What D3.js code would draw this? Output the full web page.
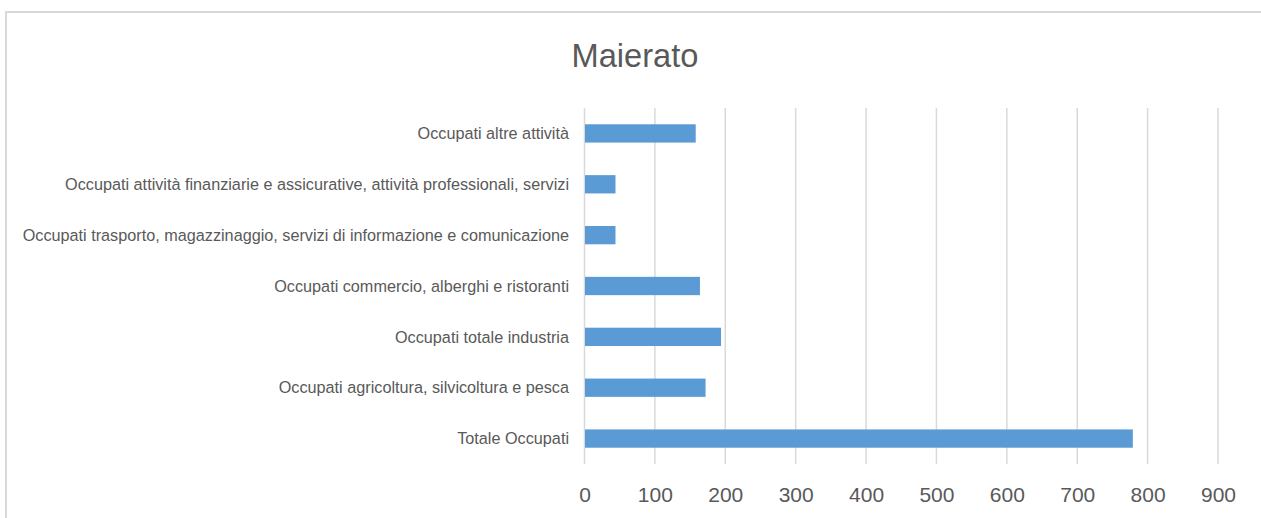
<!DOCTYPE html>
<html><head><meta charset="utf-8">
<script src="https://cdn.jsdelivr.net/npm/d3@7"></script>
<style>body{margin:0;background:#fff}svg{display:block}</style>
</head><body>
<svg id="c" width="1261" height="518"></svg>
<script>
const title = "Maierato";
const categories = [
  "Occupati altre attività",
  "Occupati attività finanziarie e assicurative, attività professionali, servizi",
  "Occupati trasporto, magazzinaggio, servizi di informazione e comunicazione",
  "Occupati commercio, alberghi e ristoranti",
  "Occupati totale industria",
  "Occupati agricoltura, silvicoltura e pesca",
  "Totale Occupati"
];
const values = [158, 44, 44, 164, 194, 172, 779];
const xTicks = [0, 100, 200, 300, 400, 500, 600, 700, 800, 900];

const svg = d3.select("#c");
const font = "'Liberation Sans', Arial, sans-serif";
const textColor = "#595959";

// chart border
svg.append("rect").attr("x", 6).attr("y", 12).attr("width", 1400).attr("height", 700)
  .attr("fill", "#fff").attr("stroke", "#d9d9d9").attr("stroke-width", 2);

const x = d3.scaleLinear().domain([0, 900]).range([584.5, 1218]);
const y = d3.scaleBand().domain(categories).range([108, 464]).paddingInner(0.64).paddingOuter(0.32);

// gridlines
svg.append("g").selectAll("line").data(xTicks).join("line")
  .attr("x1", d => x(d)).attr("x2", d => x(d))
  .attr("y1", 108).attr("y2", 464)
  .attr("stroke", "#d9d9d9").attr("stroke-width", 1.5);

// bars
svg.append("g").selectAll("rect").data(values).join("rect")
  .attr("x", x(0) + 0.5)
  .attr("y", (d, i) => y(categories[i]))
  .attr("width", d => x(d) - x(0) - 0.5)
  .attr("height", y.bandwidth())
  .attr("fill", "#5b9bd5");

// x axis labels
const xAxis = d3.axisBottom(x).tickValues(xTicks).tickSize(0).tickPadding(0);
const gx = svg.append("g").attr("transform", "translate(0,487)").call(xAxis);
gx.select(".domain").remove();
gx.selectAll("text").attr("font-family", font).attr("font-size", 21)
  .attr("fill", textColor).attr("dy", "0.71em");

// y labels
const yAxis = d3.axisLeft(y).tickSize(0).tickPadding(0);
const gy = svg.append("g").attr("transform", "translate(569,0)").call(yAxis);
gy.select(".domain").remove();
const ylabels = gy.selectAll("text").attr("font-family", font).attr("font-size", 14)
  .attr("fill", textColor).attr("dy", "0.35em");
// fit longest label width to reference (~547px)
let maxW = 0;
ylabels.each(function(){ maxW = Math.max(maxW, this.getComputedTextLength()); });
const fs = 14 * 547 / maxW;
ylabels.attr("font-size", fs);

// title
const t = svg.append("text").attr("x", 635).attr("y", 66.5).attr("text-anchor", "middle")
  .attr("font-family", font).attr("font-size", 30).attr("fill", textColor).text(title);
const tw = t.node().getComputedTextLength();
t.attr("font-size", 30 * 127 / tw);
</script>
</body></html>
